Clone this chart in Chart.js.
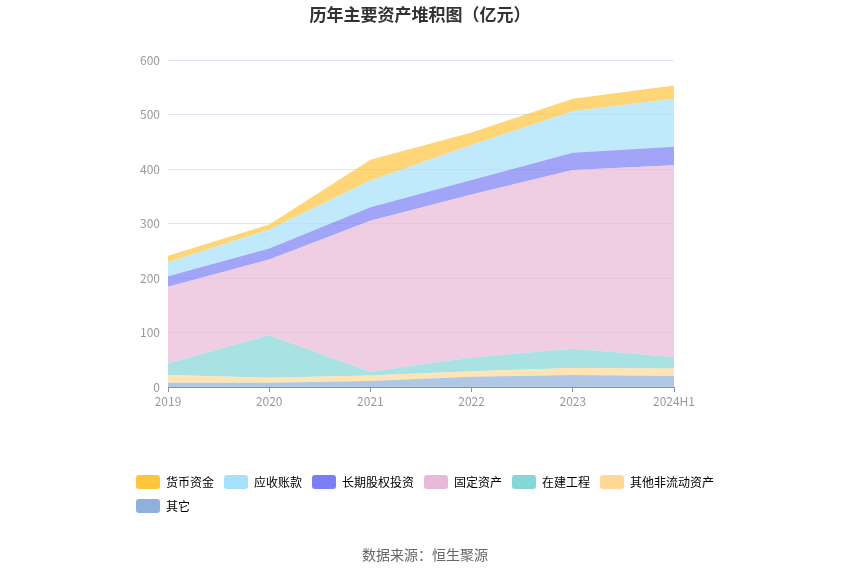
<!DOCTYPE html>
<html>
<head>
<meta charset="utf-8">
<script src="https://cdn.jsdelivr.net/npm/chart.js@4.4.1/dist/chart.umd.min.js"></script>
<style>
  html, body { margin: 0; padding: 0; background: #fff; }
  #wrap { width: 850px; height: 575px; position: relative; font-family: "Noto Sans CJK SC", "Noto Sans", sans-serif; }
  #title { position: absolute; left: 0; top: 2px; width: 840px; text-align: center;
           font-size: 17px; font-weight: bold; color: #333; line-height: 24px; }
  #source { position: absolute; left: 0; top: 544px; width: 850px; text-align: center;
            font-size: 14px; color: #666; line-height: 20px; }
</style>
</head>
<body>
<div id="wrap">
  <canvas id="myChart" width="850" height="575"></canvas>
  <div id="title">历年主要资产堆积图（亿元）</div>
  <div id="source">数据来源：恒生聚源</div>
</div>
<script>
// categories (x axis)
const years = ['2019', '2020', '2021', '2022', '2023', '2024H1'];

// series values, 亿元
const qita = [8, 8, 11, 19, 22, 20];              // 其它
const qitaFeiLiudong = [14, 9, 10, 10, 13, 14];   // 其他非流动资产
const zaijian = [21, 78, 7, 25, 35, 21];          // 在建工程
const guding = [141, 139, 277, 299, 328, 352];    // 固定资产
const changqi = [19, 20, 25, 27, 32, 34];         // 长期股权投资
const yingshou = [26, 35, 49, 64, 76, 88];        // 应收账款
const huobi = [12, 9, 38, 23, 23, 24];            // 货币资金

const yTicks = [0, 100, 200, 300, 400, 500, 600];

// bottom of stack first
const series = [
  { label: '其它', data: qita, color: '#8fb0dc' },
  { label: '其他非流动资产', data: qitaFeiLiudong, color: '#ffd895' },
  { label: '在建工程', data: zaijian, color: '#85d6d6' },
  { label: '固定资产', data: guding, color: '#e8b9d9' },
  { label: '长期股权投资', data: changqi, color: '#7b7ef4' },
  { label: '应收账款', data: yingshou, color: '#a5e1fb' },
  { label: '货币资金', data: huobi, color: '#ffc53d' }
];

function withAlpha(hex, a) {
  const n = parseInt(hex.slice(1), 16);
  return `rgba(${(n >> 16) & 255}, ${(n >> 8) & 255}, ${n & 255}, ${a})`;
}

const FONT = '"Noto Sans CJK SC", "Noto Sans", sans-serif';

const datasets = series.map((s, i) => ({
  label: s.label,
  data: s.data,
  solidColor: s.color,
  backgroundColor: withAlpha(s.color, 0.7),
  borderColor: withAlpha(s.color, 0),
  borderWidth: 0,
  pointRadius: 0,
  pointHoverRadius: 0,
  tension: 0,
  fill: i === 0 ? 'origin' : '-1'
}));

const ctx = document.getElementById('myChart').getContext('2d');
new Chart(ctx, {
  type: 'line',
  data: { labels: years, datasets: datasets },
  options: {
    responsive: false,
    animation: false,
    // legend row width must wrap "其它" onto a second line
    layout: { padding: { left: 126, right: 104, top: 60, bottom: 52 } },
    plugins: {
      title: { display: false },
      legend: {
        position: 'bottom',
        align: 'start',
        reverse: true,
        labels: {
          color: '#333',
          font: { family: FONT, size: 12 },
          boxWidth: 24,
          boxHeight: 14,
          padding: 10,
          useBorderRadius: true,
          borderRadius: 3,
          generateLabels(chart) {
            return chart.data.datasets.map((ds, i) => ({
              text: ds.label,
              fillStyle: ds.solidColor,
              strokeStyle: ds.solidColor,
              lineWidth: 0,
              hidden: !chart.isDatasetVisible(i),
              datasetIndex: i,
              borderRadius: 3
            }));
          }
        }
      },
      tooltip: { enabled: false }
    },
    scales: {
      x: {
        offset: false,
        grid: { display: true, drawOnChartArea: false, drawTicks: true, tickLength: 5, color: '#8593ab' },
        border: { display: true, color: '#8593ab' },
        ticks: { color: '#999', font: { family: FONT, size: 12 }, padding: 2, maxRotation: 0 },
        afterFit(scale) { scale.height = 78; }
      },
      y: {
        stacked: true,
        min: 0,
        max: 600,
        afterBuildTicks(scale) { scale.ticks = yTicks.map(v => ({ value: v })); },
        grid: { color: '#e0e6f1', drawTicks: false },
        border: { display: false },
        ticks: { color: '#999', font: { family: FONT, size: 12 }, padding: 8 },
        afterFit(scale) { scale.width = 42; }
      },
      // empty spacer on the right so the plot ends where the reference does
      spacer: {
        position: 'right',
        display: true,
        grid: { display: false },
        border: { display: false },
        ticks: { display: false },
        afterFit(scale) { scale.width = 72; }
      }
    }
  }
});
</script>
</body>
</html>
